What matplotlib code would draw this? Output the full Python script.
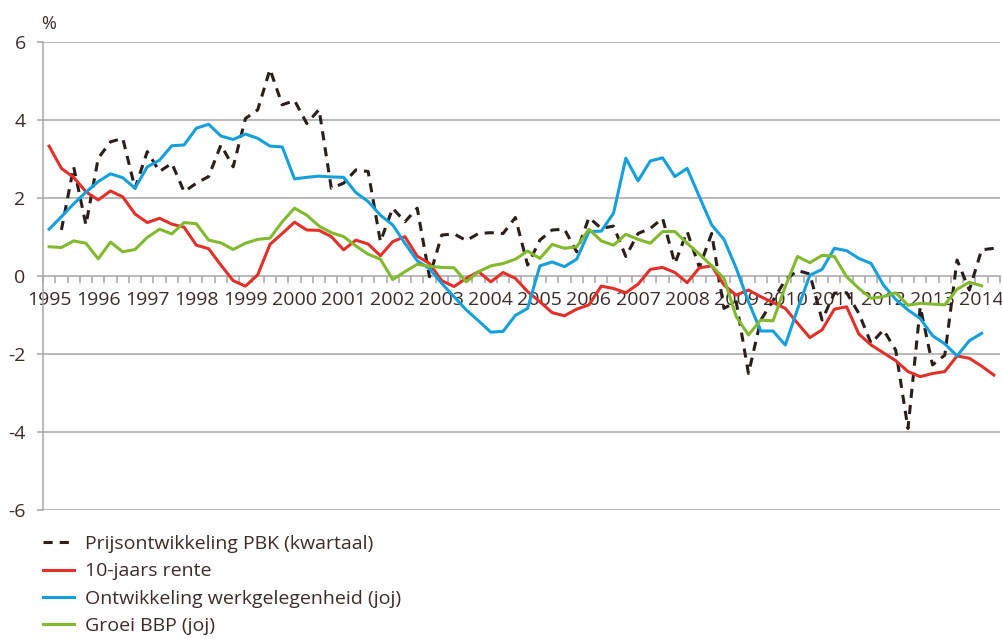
import matplotlib
matplotlib.use('Agg')
import matplotlib.pyplot as plt
import numpy as np

# kwartaalcijfers 1995K1 t/m 2014K2
jaren = [str(j) for j in range(1995, 2015)]

pbk = [np.nan, 1.18, 2.80, 1.31, 3.02, 3.44, 3.53, 2.25, 3.19, 2.68,
       2.89, 2.16, 2.38, 2.55, 3.36, 2.80, 4.04, 4.26, 5.30, 4.39,
       4.50, 3.91, 4.27, 2.25, 2.38, 2.72, 2.68, 0.88, 1.74, 1.39,
       1.74, -0.02, 1.05, 1.08, 0.91, 1.09, 1.11, 1.09, 1.50, 0.28,
       0.92, 1.18, 1.20, 0.62, 1.50, 1.22, 1.28, 0.50, 1.09, 1.22,
       1.48, 0.32, 1.14, 0.22, 1.09, -0.83, -0.66, -2.50, -1.13, -0.63,
       -0.10, 0.14, 0.05, -1.13, -0.44, -0.43, -0.96, -1.73, -1.38, -1.90,
       -3.91, -0.79, -2.28, -2.03, 0.41, -0.36, 0.67, 0.71]

rente = [3.33, 2.76, 2.53, 2.16, 1.95, 2.18, 2.03, 1.59, 1.37, 1.48,
         1.33, 1.25, 0.79, 0.70, 0.28, -0.12, -0.26, 0.03, 0.81, 1.09,
         1.38, 1.18, 1.17, 1.01, 0.67, 0.92, 0.82, 0.52, 0.88, 1.01,
         0.51, 0.32, -0.12, -0.27, -0.06, 0.11, -0.15, 0.09, -0.06, -0.40,
         -0.66, -0.94, -1.02, -0.85, -0.74, -0.26, -0.32, -0.43, -0.21, 0.17,
         0.22, 0.09, -0.17, 0.21, 0.26, -0.23, -0.49, -0.36, -0.53, -0.68,
         -0.83, -1.21, -1.58, -1.38, -0.85, -0.79, -1.49, -1.77, -1.97, -2.17,
         -2.45, -2.58, -2.50, -2.45, -2.05, -2.11, -2.31, -2.54]

werk = [1.20, 1.52, 1.85, 2.15, 2.42, 2.62, 2.52, 2.25, 2.80, 2.97,
        3.34, 3.36, 3.79, 3.89, 3.59, 3.50, 3.64, 3.53, 3.33, 3.31,
        2.49, 2.53, 2.56, 2.54, 2.53, 2.14, 1.91, 1.56, 1.31, 0.84,
        0.39, 0.19, -0.19, -0.53, -0.87, -1.15, -1.44, -1.42, -1.01, -0.83,
        0.26, 0.36, 0.24, 0.43, 1.14, 1.15, 1.61, 3.02, 2.44, 2.95,
        3.03, 2.55, 2.76, 2.03, 1.31, 0.94, 0.20, -0.66, -1.41, -1.41,
        -1.77, -0.85, 0.02, 0.17, 0.71, 0.65, 0.45, 0.32, -0.23, -0.60,
        -0.87, -1.09, -1.53, -1.74, -2.05, -1.66, -1.47, np.nan]

bbp = [0.75, 0.73, 0.90, 0.84, 0.44, 0.87, 0.62, 0.68, 0.99, 1.20,
       1.08, 1.37, 1.34, 0.92, 0.85, 0.68, 0.84, 0.94, 0.97, 1.39,
       1.74, 1.56, 1.28, 1.11, 1.01, 0.77, 0.56, 0.43, -0.09, 0.11,
       0.30, 0.25, 0.22, 0.21, -0.15, 0.11, 0.26, 0.32, 0.43, 0.64,
       0.45, 0.81, 0.71, 0.75, 1.20, 0.90, 0.79, 1.07, 0.94, 0.84,
       1.14, 1.14, 0.84, 0.56, 0.26, -0.06, -1.04, -1.51, -1.13, -1.15,
       -0.27, 0.50, 0.34, 0.53, 0.50, -0.02, -0.32, -0.57, -0.53, -0.43,
       -0.75, -0.70, -0.72, -0.74, -0.34, -0.16, -0.25, np.nan]

tekst = '#3b2c28'
grijs = '#a6a6a6'
plt.rcParams['font.family'] = ['Open Sans', 'DejaVu Sans']
plt.rcParams['font.size'] = 14
plt.rcParams['text.color'] = tekst

fig = plt.figure(figsize=(10.03, 6.39), dpi=100)
ax = fig.add_axes([43/1003, 1-510/639, 957/1003, 468/639])

x = np.arange(len(rente))
ax.plot(x, pbk, color='#2a1f1b', lw=2.2, dashes=(3, 2.3), dash_capstyle='butt',
        label='Prijsontwikkeling PBK (kwartaal)')
ax.plot(x, rente, color='#e2302a', lw=2.2, label='10-jaars rente')
ax.plot(x, werk, color='#16a0db', lw=2.2, label='Ontwikkeling werkgelegenheid (joj)')
ax.plot(x, bbp, color='#82b92e', lw=2.2, label='Groei BBP (joj)')

ax.set_xlim(-0.5, len(rente) - 0.5)
ax.set_ylim(-6, 6)
ax.set_yticks([-6, -4, -2, 0, 2, 4, 6])
ax.set_yticklabels(['-6', '-4', '-2', '0', '2', '4', '6'])
for v in [-6, -4, -2, 2, 4, 6]:
    ax.axhline(v, color=grijs, lw=1.1, zorder=0)

ax.spines['top'].set_visible(False)
ax.spines['right'].set_visible(False)
ax.spines['left'].set_color(grijs)
ax.spines['left'].set_linewidth(1.1)
ax.spines['bottom'].set_position(('data', 0))
ax.spines['bottom'].set_color(grijs)
ax.spines['bottom'].set_linewidth(1.1)
ax.spines['bottom'].set_zorder(0)

# streepjes tussen de kwartalen, jaartallen op het eerste kwartaal
ax.set_xticks(np.arange(-0.5, len(rente), 1))
ax.set_xticklabels([])
ax.set_xticks(np.arange(0, len(rente), 4), minor=True)
ax.set_xticklabels(jaren, minor=True)
ax.tick_params(axis='x', which='major', direction='out', length=5, width=1.1, color=grijs)
ax.tick_params(axis='x', which='minor', length=0, pad=11, labelsize=14, labelcolor=tekst)
ax.tick_params(axis='y', direction='out', length=4.5, width=1.1, color=grijs,
               pad=8, labelsize=14, labelcolor=tekst)

fig.text(41/1003, 1-24/639, '%', ha='left', va='center', fontsize=13, color=tekst)

fig.legend(loc='upper left', bbox_to_anchor=(43/1003, 1-535/639), frameon=False,
           borderaxespad=0, borderpad=0, handlelength=1.6, handletextpad=0.55,
           labelspacing=0.48, fontsize=14, labelcolor=tekst)

fig.savefig('out.png', dpi=100)
